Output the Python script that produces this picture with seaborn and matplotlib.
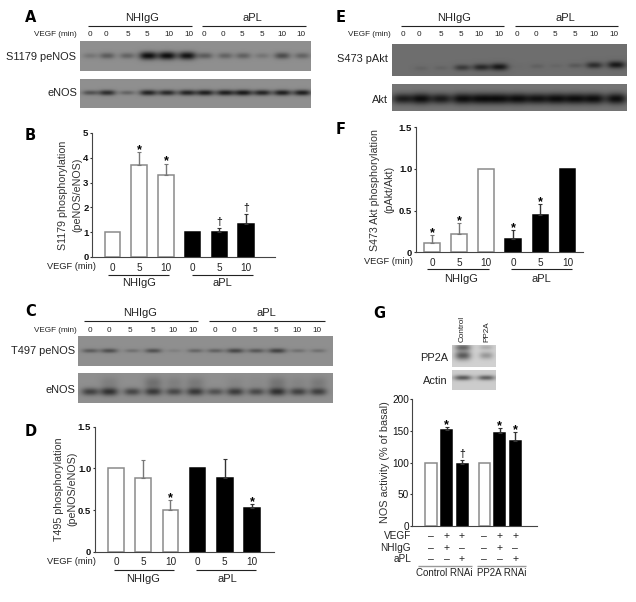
import numpy as np
import pandas as pd
import seaborn as sns
import matplotlib
matplotlib.use("Agg")
import matplotlib.pyplot as plt
from matplotlib.transforms import blended_transform_factory

W, H = 636, 602

# bar values (upper error bar length next to them)
slots = ["0a", "5a", "10a", "0b", "5b", "10b"]
groups = ["NHIgG", "NHIgG", "NHIgG", "aPL", "aPL", "aPL"]
time_labels = ["0", "5", "10", "0", "5", "10"]

b_vals = [1.0, 3.69, 3.31, 1.0, 1.0, 1.35]
b_errs = [0, 0.54, 0.46, 0, 0.15, 0.39]
b_marks = ["", "*", "*", "", "†", "†"]

d_vals = [1.0, 0.88, 0.504, 1.0, 0.888, 0.524]
d_errs = [0, 0.216, 0.112, 0, 0.22, 0.044]
d_marks = ["", "", "*", "", "", "*"]

f_vals = [0.116, 0.216, 1.0, 0.156, 0.444, 1.0]
f_errs = [0.088, 0.132, 0, 0.108, 0.132, 0]
f_marks = ["*", "*", "", "*", "*", ""]

g_pos = [0, 1, 2, 3.42, 4.42, 5.42]
g_vals = [100, 151, 97, 100, 146.7, 133.5]
g_errs = [0, 4.7, 6.4, 0, 7.3, 14.5]
g_marks = ["", "*", "†", "", "*", "*"]
g_groups = ["open", "solid", "solid", "open", "solid", "solid"]
g_vegf = ["–", "+", "+", "–", "+", "+"]
g_nhigg = ["–", "+", "–", "–", "+", "–"]
g_apl = ["–", "–", "+", "–", "–", "+"]

# band strengths per lane
lane_mins = ["0", "0", "5", "5", "10", "10", "0", "0", "5", "5", "10", "10"]
a_pe = [0.1, 0.2, 0.17, 0.5, 0.5, 0.48, 0.2, 0.17, 0.18, 0.1, 0.26, 0.17]
a_en = [0.24, 0.38, 0.17, 0.42, 0.4, 0.42, 0.44, 0.44, 0.46, 0.42, 0.44, 0.44]
c_pe = [0.2, 0.25, 0.12, 0.24, 0.06, 0.16, 0.18, 0.28, 0.22, 0.3, 0.12, 0.12]
c_en = [0.3, 0.36, 0.28, 0.32, 0.27, 0.33, 0.24, 0.32, 0.27, 0.36, 0.3, 0.3]
c_smear = [0.0, 0.06, 0.0, 0.12, 0.06, 0.08, 0.0, 0.03, 0.02, 0.1, 0.04, 0.08]
e_pa = [0.0, 0.04, 0.04, 0.2, 0.27, 0.33, 0.01, 0.05, 0.03, 0.08, 0.25, 0.33]
e_ak = [0.34, 0.4, 0.35, 0.4, 0.4, 0.4, 0.4, 0.38, 0.4, 0.4, 0.4, 0.4]
g_pp2a_top = [0.4, 0.14]
g_pp2a_low = [0.46, 0.22]
g_actin = [0.45, 0.42]

sns.set_theme(style="ticks")
plt.rcParams["font.family"] = ["Liberation Sans", "DejaVu Sans"]
fig = plt.figure(figsize=(W / 100, H / 100), dpi=100, facecolor="white")


def px_axes(x0, y0, x1, y1):
    return fig.add_axes([x0 / W, 1 - y1 / H, (x1 - x0) / W, (y1 - y0) / H])


# full page layer in pixel units, for labels and group rules
page = px_axes(0, 0, W, H)
page.set_xlim(0, W)
page.set_ylim(H, 0)
page.axis("off")
page.set_zorder(5)
page.patch.set_alpha(0)


def blot(box, lanes, rows, bg, half_w=9.0, smear=None, tilt=0.0):
    # rows: (strengths, band y, band half height)
    x0, y0, x1, y1 = box
    xx, yy = np.meshgrid(np.arange(x0, x1, 0.5), np.arange(y0, y1, 0.5))
    img = np.full(xx.shape, float(bg))
    mid = (x0 + x1) / 2
    for strengths, y_c, half_h in rows:
        top = max(strengths)
        for i, (c, s) in enumerate(zip(lanes, strengths)):
            rel = s / top
            cy = y_c + tilt * (c - mid)
            shape = np.exp(-np.abs((xx - c) / (half_w * (0.75 + 0.25 * rel))) ** 2.6)
            img -= s * shape * np.exp(-((yy - cy) / (half_h * (0.6 + 0.4 * rel))) ** 2)
            if smear is not None:
                img -= smear[i] * shape * np.exp(-((yy - (cy - 9)) / 6) ** 2)
    ax = px_axes(x0, y0, x1, y1)
    ax.imshow(img, cmap="gray", vmin=0, vmax=1, aspect="auto", interpolation="bilinear",
              extent=[x0, x1, y1, y0])
    ax.axis("off")
    return ax


def bars(box, slot_x, vals, errs, marks, ymax, yticks, ylabel, label_x, tick_weight="bold",
         pos=None, hue=None, bar_w=0.58, time_ticks=None, label_gap=1.55):
    x0, y0, x1, y1 = box
    ax = px_axes(x0, y0, x1, y1)
    df = pd.DataFrame({
        "x": pos if pos is not None else slots,
        "v": vals,
        "g": hue if hue is not None else groups,
    })
    names = list(dict.fromkeys(df["g"]))
    pal = dict(zip(names, ["white", "black"]))
    sns.barplot(data=df, x="x", y="v", hue="g", palette=pal, dodge=False, width=bar_w,
                native_scale=pos is not None, legend=False, ax=ax, linewidth=0)
    xs = np.array(pos) if pos is not None else np.arange(len(vals))
    for patch in ax.patches:
        white = patch.get_facecolor()[0] > 0.5
        patch.set_edgecolor("#8a8a8a" if white else "black")
        patch.set_linewidth(1.1)
    for xp, v, e, g in zip(xs, vals, errs, df["g"]):
        if e > 0:
            col = "#777777" if pal[g] == "white" else "#333333"
            ax.errorbar([xp], [v], yerr=[[0], [e]], color=col, elinewidth=1.0, capsize=1.6,
                        capthick=0.8, zorder=4)
    for xp, v, e, m in zip(xs, vals, errs, marks):
        if m:
            ax.annotate(m, (xp, v + e), xytext=(0, -3 if m == "*" else 0.8), textcoords="offset points",
                        ha="center", va="bottom", fontsize=9 if m == "*" else 7.5, color="black",
                        fontweight="bold" if m == "*" else "normal")
    first, pitch = slot_x
    ax.set_xlim((x0 - first) / pitch, (x1 - first) / pitch)
    ax.set_ylim(0, ymax)
    ax.set_yticks(yticks)
    ax.set_yticklabels([str(t) for t in yticks], fontsize=6.8 if tick_weight == "bold" else 7.2,
                       fontweight=tick_weight, color="#111111")
    ax.tick_params(axis="y", length=1.7, width=0.8, pad=0.8, color="#333333")
    if time_ticks:
        ax.set_xticks(xs)
        ax.set_xticklabels(time_ticks, fontsize=7.2, color="#222222")
        ax.tick_params(axis="x", length=0, pad=4)
    else:
        ax.set_xticks([])
    ax.set_xlabel("")
    ax.set_ylabel(ylabel, fontsize=7.7, color="#333333", linespacing=label_gap)
    ax.yaxis.set_label_coords((label_x - x0) / (x1 - x0), 0.5)
    sns.despine(ax=ax)
    for s in ("left", "bottom"):
        ax.spines[s].set_linewidth(0.8)
        ax.spines[s].set_color("#444444")
    ax.patch.set_alpha(0)
    return ax


def txt(x, y, s, size=7.4, **kw):
    kw.setdefault("ha", "center")
    kw.setdefault("va", "center")
    kw.setdefault("color", "#222222")
    page.text(x, y, s, fontsize=size, **kw)


def rule(x0, x1, y, color="#222222", lw=0.8):
    page.plot([x0, x1], [y, y], color=color, lw=lw, solid_capstyle="butt")


def panel_letter(x, y, s):
    page.text(x, y, s, fontsize=10.5, fontweight="bold", color="black", ha="left", va="center",
              family=["DejaVu Sans"])


def lane_labels(xs, y):
    for xp, s in zip(xs, lane_mins):
        txt(xp, y, s, size=5.9)


# Panel A
a_lanes = [90, 107, 127, 148, 167, 187, 205, 225, 243, 262, 282, 302]
blot((80, 41, 311, 71), a_lanes, [(a_pe, 55.5, 4.0)], 0.56)
blot((80, 79, 311, 108), a_lanes, [(a_en, 93, 2.8)], 0.56)
panel_letter(25, 18, "A")
txt(142, 18, "NHIgG", 8.0)
txt(252, 18, "aPL", 8.0)
rule(88, 192, 25.8)
rule(202, 306, 25.8)
txt(77, 35, "VEGF (min)", 5.9, ha="right")
lane_labels([90, 106, 128, 147, 169, 189, 204, 223, 242, 262, 282, 301], 35)
txt(76, 57, "S1179 peNOS", 7.9, ha="right")
txt(77, 93, "eNOS", 7.9, ha="right")

# Panel B
bars((92, 133, 275, 257), (112.5, 26.7), b_vals, b_errs, b_marks, 5, [0, 1, 2, 3, 4, 5],
     "S1179 phosphorylation\n(peNOS/eNOS)", 82, time_ticks=time_labels)
panel_letter(25, 135, "B")
txt(96, 266.5, "VEGF (min)", 6.7, ha="right")
rule(108, 169, 274.5)
rule(192, 253, 274.5)
txt(139, 283, "NHIgG", 8.0)
txt(222, 283, "aPL", 8.0)

# Panel C
c_lanes = [90, 109, 132, 153, 174, 195, 215, 235, 256, 277, 298, 318]
blot((78, 336, 333, 366), c_lanes, [(c_pe, 350.5, 2.4)], 0.56)
blot((78, 373, 333, 403), c_lanes, [(c_en, 391.5, 4.0)], 0.56, smear=c_smear)
panel_letter(25, 312, "C")
txt(140, 313, "NHIgG", 8.0)
txt(266, 313, "aPL", 8.0)
rule(84, 198, 321)
rule(209, 325, 321)
txt(77, 330, "VEGF (min)", 5.9, ha="right")
lane_labels([90, 109, 130, 153, 173, 193, 215, 234, 255, 276, 297, 317], 330)
txt(75, 351, "T497 peNOS", 7.9, ha="right")
txt(75, 390, "eNOS", 7.9, ha="right")

# Panel D
bars((94.7, 426.7, 274, 551.7), (116, 27.2), d_vals, d_errs, d_marks, 1.5, [0, 0.5, 1.0, 1.5],
     "T495 phosphorylation\n(peNOS/eNOS)", 77, time_ticks=time_labels, label_gap=1.4)
panel_letter(25, 431, "D")
txt(96, 562, "VEGF (min)", 6.7, ha="right")
rule(114, 174, 570)
rule(196, 256, 570)
txt(143, 579, "NHIgG", 8.0)
txt(227, 579, "aPL", 8.0)

# Panel E
e_lanes = [402, 421, 441, 462, 481, 499, 518, 537, 556, 575, 594, 616]
blot((392, 44, 627, 76), e_lanes, [(e_pa, 66.5, 3.6)], 0.43, tilt=-0.018)
blot((392, 84, 627, 111), e_lanes, [(e_ak, 98.5, 5.5)], 0.46, half_w=10.5)
panel_letter(336, 18, "E")
txt(454, 18, "NHIgG", 8.0)
txt(565, 18, "aPL", 8.0)
rule(401, 504, 25.8)
rule(515, 618, 25.8)
txt(391, 35, "VEGF (min)", 5.9, ha="right")
lane_labels([403, 419, 441, 461, 479, 499, 517, 536, 555, 575, 594, 614], 35)
txt(388, 59, "S473 pAkt", 7.9, ha="right")
txt(388, 100, "Akt", 7.9, ha="right")

# Panel F
ax_f = bars((415.7, 127.3, 583, 252.3), (432, 27.1), f_vals, f_errs, f_marks, 1.5, [0, 0.5, 1.0, 1.5],
            "S473 Akt phosphorylation\n(pAkt/Akt)", 394, time_ticks=time_labels)
panel_letter(336, 129, "F")
txt(413, 262, "VEGF (min)", 6.7, ha="right")
rule(427, 489, 269)
rule(511, 572, 269)
txt(461, 279, "NHIgG", 8.0)
txt(541, 279, "aPL", 8.0)

# Panel G
g_lanes = [462.7, 486]
blot((452, 344.5, 496, 367), g_lanes, [(g_pp2a_top, 347.5, 3.2), (g_pp2a_low, 355.5, 4.5)], 0.82, half_w=8)
blot((452, 369.5, 496, 390.5), g_lanes, [(g_actin, 378, 2.6)], 0.8, half_w=9)
panel_letter(373, 313, "G")
page.text(462, 342, "Control", fontsize=5.9, rotation=90, ha="center", va="bottom", color="#222222")
page.text(487, 342, "PP2A", fontsize=5.9, rotation=90, ha="center", va="bottom", color="#222222")
txt(448, 358, "PP2A", 7.9, ha="right")
txt(448, 381, "Actin", 7.9, ha="right")

ax_g = bars((412.3, 399.3, 536.7, 525.7), (431, 15.55), g_vals, g_errs, g_marks, 200,
            [0, 50, 100, 150, 200], "NOS activity (% of basal)", 390, tick_weight="normal",
            pos=g_pos, hue=g_groups, bar_w=0.72)
ax_g.set_ylabel("NOS activity (% of basal)", fontsize=7.8, color="#333333")
row_tf = blended_transform_factory(ax_g.transData, page.transData)
for row, y in ((g_vegf, 536), (g_nhigg, 547.7), (g_apl, 559.3)):
    for xp, s in zip(g_pos, row):
        page.text(xp, y, s, transform=row_tf, ha="center", va="center", fontsize=7.6, color="#222222")
for s, y in (("VEGF", 536), ("NHIgG", 547.7), ("aPL", 559.3)):
    txt(411, y, s, 7.2, ha="right")
rule(418, 472, 565.5, color="#999999", lw=1.0)
rule(477, 526, 565.5, color="#999999", lw=1.0)
txt(444.5, 573.5, "Control RNAi", 7.0)
txt(501.5, 573.5, "PP2A RNAi", 7.0)

fig.savefig("out.png", dpi=100, facecolor="white")
